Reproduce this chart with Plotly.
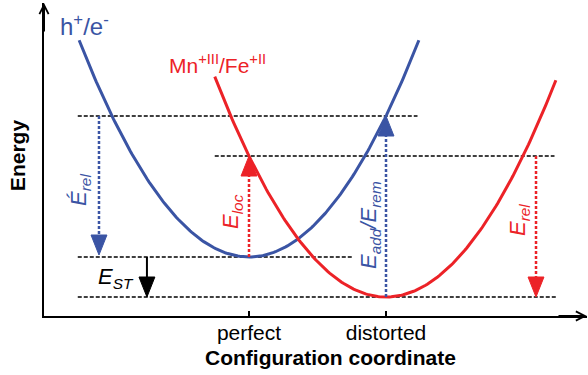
import numpy as np
import plotly.graph_objects as go

# ---- data -------------------------------------------------------------
# parabolic potential energy curves  E = E_min + k (q - q_min)^2
curve_names = ["h+/e-", "Mn+III/Fe+II"]
curve_qmin = [0.0, 1.0]
curve_Emin = [0.40, 0.0]
curve_k = [1.41, 1.41]
curve_qstart = [-1.24, -0.25]
curve_qend = [1.24, 2.24]

# dashed energy levels
level_E = [1.81, 1.41, 0.40, 0.00]
level_qstart = [-1.25, -0.25, -1.25, -1.25]
level_qend = [1.23, 2.23, 0.75, 2.25]

# vertical transitions
arrow_names = ["E'rel", "Eloc", "Eadd/Erem", "Erel", "EST"]
arrow_q = [-1.095, 0.0, 1.0, 2.095, -0.745]
arrow_from = [1.81, 0.40, 0.0, 1.41, 0.40]
arrow_to = [0.42, 1.41, 1.81, 0.0, 0.0]

tick_vals = [0, 1]
tick_text = ["perfect", "distorted"]

# ---- styles -----------------------------------------------------------
BLUE = "#3a54a4"
RED = "#ec2227"
curve_colors = [BLUE, RED]
arrow_colors = [BLUE, RED, BLUE, RED, "black"]
arrow_dash = ["3px,2px", "3px,2px", "3px,2px", "3px,2px", "solid"]
FONT = "Liberation Sans, Arial, Helvetica, sans-serif"

X_RANGE = [-1.4964, 2.4672]
Y_RANGE = [-0.19, 2.94]
HEAD_LEN = 0.20     # energy units
HEAD_HALF = 0.058   # q units

fig = go.Figure()

# dashed levels
for E, q0, q1 in zip(level_E, level_qstart, level_qend):
    fig.add_trace(go.Scatter(x=[q0, q1], y=[E, E], mode="lines",
                             line=dict(color="black", width=1.3, dash="4px,2px"),
                             hoverinfo="skip", showlegend=False))

# parabolas
for name, q0, E0, k, qs, qe, c in zip(curve_names, curve_qmin, curve_Emin, curve_k,
                                      curve_qstart, curve_qend, curve_colors):
    q = np.linspace(qs, qe, 200)
    fig.add_trace(go.Scatter(x=q, y=E0 + k * (q - q0) ** 2, mode="lines", name=name,
                             line=dict(color=c, width=3), hoverinfo="skip",
                             showlegend=False))

# transition arrows
for q, a, b, c, d in zip(arrow_q, arrow_from, arrow_to, arrow_colors, arrow_dash):
    s = 1 if b > a else -1
    base = b - s * HEAD_LEN
    fig.add_trace(go.Scatter(x=[q, q], y=[a, base], mode="lines",
                             line=dict(color=c, width=2.5 if d != "solid" else 2, dash=d),
                             hoverinfo="skip", showlegend=False))
    fig.add_trace(go.Scatter(x=[q - HEAD_HALF, q + HEAD_HALF, q, q - HEAD_HALF],
                             y=[base, base, b, base], mode="lines", fill="toself",
                             fillcolor=c, line=dict(color=c, width=1),
                             hoverinfo="skip", showlegend=False))

annotations = [
    # axis arrowheads
    dict(xref="paper", yref="paper", x=0, y=1, ax=0, ay=30, text="", showarrow=True,
         arrowhead=5, arrowsize=0.9, arrowwidth=2, arrowcolor="black"),
    dict(xref="paper", yref="paper", x=1, y=0, ax=-30, ay=0, text="", showarrow=True,
         arrowhead=5, arrowsize=0.9, arrowwidth=2, arrowcolor="black"),
    # titles (paper coordinates, outside the plotting area)
    dict(xref="paper", yref="paper", x=-0.0497, y=0.514, text="<b>Energy</b>",
         xanchor="center", yanchor="middle",
         textangle=-90, showarrow=False, font=dict(size=21, color="black")),
    dict(xref="paper", yref="paper", x=0.5285, y=-0.134,
         xanchor="center", yanchor="middle",
         text="<b>Configuration coordinate</b>", showarrow=False,
         font=dict(size=21, color="black")),
    # curve labels
    dict(x=-1.394, y=2.72, text="h<sup>+</sup>/e<sup>-</sup>", xanchor="left",
         showarrow=False, font=dict(size=24, color=BLUE)),
    dict(x=-0.599, y=2.33, text="Mn<sup>+III</sup>/Fe<sup>+II</sup>", xanchor="left",
         showarrow=False, font=dict(size=21, color=RED)),
    # transition labels
    dict(x=-1.234, y=1.07, text="<i>É<sub>rel</sub></i>", textangle=-90,
         showarrow=False, font=dict(size=22, color=BLUE)),
    dict(x=-0.124, y=0.85, text="<i>E<sub>loc</sub></i>", textangle=-90,
         showarrow=False, font=dict(size=22, color=RED)),
    dict(x=0.883, y=0.72, text="<i>E<sub>add</sub>/E<sub>rem</sub></i>", textangle=-90,
         showarrow=False, font=dict(size=22, color=BLUE)),
    dict(x=1.971, y=0.77, text="<i>E<sub>rel</sub></i>", textangle=-90,
         showarrow=False, font=dict(size=22, color=RED)),
    dict(x=-0.971, y=0.19, text="<i>E<sub>ST</sub></i>",
         showarrow=False, font=dict(size=22, color="black")),
]

fig.update_layout(
    width=588, height=375,
    margin=dict(l=44, r=1, t=3, b=59),
    paper_bgcolor="white", plot_bgcolor="white",
    font=dict(family=FONT),
    annotations=annotations,
    xaxis=dict(range=X_RANGE, showgrid=False, zeroline=False, showline=True,
               linecolor="black", linewidth=2, ticks="inside", ticklen=5,
               tickwidth=1.5, tickcolor="black", tickvals=tick_vals,
               ticktext=tick_text, tickfont=dict(size=21, color="black"),
               ticklabelstandoff=-3, fixedrange=True),
    yaxis=dict(range=Y_RANGE, showgrid=False, zeroline=False, showline=True,
               linecolor="black", linewidth=2, showticklabels=False, ticks="",
               fixedrange=True),
)

fig.write_html("out.html")
